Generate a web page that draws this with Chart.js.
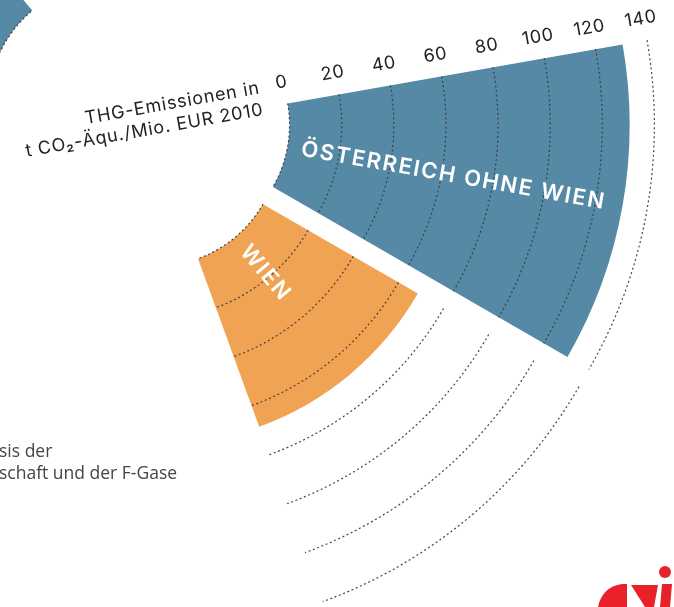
<!DOCTYPE html>
<html>
<head>
    <style>
        html, body {
            margin: 0;
            width: 674px;
            height: 607px;
            overflow: hidden;
            background: #fff;
            position: relative;
        }
        #wrap {
            position: absolute;
            left: -413px;
            top: -430px;
            width: 1100px;
            height: 1100px;
        }
        #note {
            position: absolute;
            left: -1px;
            top: 439px;
            font: 17.5px "Open Sans", sans-serif;
            color: #444;
            line-height: 22px;
            white-space: pre;
        }
        #logo {
            position: absolute;
            left: 0;
            top: 0;
        }
    </style>
    <script src="https://cdn.jsdelivr.net/npm/chart.js"></script>
</head>
<body>
    <div id="wrap">
        <canvas id="emissionChart" width="1100" height="1100"></canvas>
    </div>
    <div id="note">sis der
schaft und der F-Gase</div>
    <svg id="logo" width="674" height="607">
        <path d="M598,607 Q602,587 622,584 L627,584 L627,607 Z" fill="#e9212b"/>
        <path d="M631,585 L658,585 L654,607 L645,607 Z" fill="#e9212b"/>
        <path d="M662,584 L672,584 L670,607 L660,607 Z" fill="#e9212b"/>
        <circle cx="665" cy="572" r="6" fill="#e9212b"/>
    </svg>

    <script>
        // sectors of the radial chart, 40 degrees each (empty ones are gaps)
        const categories = ["", "", "", "", "ÖSTERREICH OHNE WIEN", "WIEN"];
        const emissions = [90, null, null, null, 130.5, 68.6];
        const tickValues = [0, 20, 40, 60, 80, 100, 120, 140];
        const axisTitle = ["THG-Emissionen in", "t CO₂-Äqu./Mio. EUR 2010"];

        const colors = ["#5589a6", "rgba(0,0,0,0)", "rgba(0,0,0,0)", "rgba(0,0,0,0)", "#5589a6", "#f0a453"];
        const OFFSET = 29;      // every sector is pushed out along its middle angle
        const axisIndex = 4;    // the ticks sit along this sector's first edge

        const sectorPlugin = {
            id: "sectors",
            afterDatasetUpdate(chart, args) {
                const scale = chart.scales.r;
                const inner = scale.getDistanceFromCenterForValue(0);
                args.meta.data.forEach((el) => {
                    const mid = (el.startAngle + el.endAngle) / 2;
                    el.x += Math.cos(mid) * OFFSET;
                    el.y += Math.sin(mid) * OFFSET;
                    el.innerRadius = inner;
                });
            },
            afterDatasetsDraw(chart) {
                const ctx = chart.ctx;
                const scale = chart.scales.r;
                const arcs = chart.getDatasetMeta(0).data;

                // dotted rings, one set per sector
                ctx.save();
                ctx.setLineDash([2, 2.6]);
                ctx.lineWidth = 1.2;
                ctx.strokeStyle = "rgba(60,60,60,0.95)";
                arcs.forEach((el, i) => {
                    if (emissions[i] === null) return;
                    tickValues.forEach((v) => {
                        ctx.beginPath();
                        ctx.arc(el.x, el.y, scale.getDistanceFromCenterForValue(v), el.startAngle, el.endAngle);
                        ctx.stroke();
                    });
                });
                ctx.restore();

                // tick labels + axis title along the edge of the axis sector
                const ax = arcs[axisIndex];
                const a = ax.startAngle;
                const t = [Math.cos(a), Math.sin(a)];
                const n = [Math.sin(a), -Math.cos(a)];
                const at = (r, off, shift) => [
                    ax.x + r * t[0] + off * n[0] + shift * t[0],
                    ax.y + r * t[1] + off * n[1] + shift * t[1]
                ];

                ctx.save();
                ctx.fillStyle = "#222";
                ctx.font = "400 18px Inter";
                ctx.letterSpacing = "0.6px";
                ctx.textAlign = "center";
                ctx.textBaseline = "middle";
                tickValues.forEach((v) => {
                    const p = at(scale.getDistanceFromCenterForValue(v), 22, -2.5);
                    ctx.save();
                    ctx.translate(p[0], p[1]);
                    ctx.rotate(a);
                    ctx.fillText(String(v), 0, 0);
                    ctx.restore();
                });

                ctx.textAlign = "right";
                ctx.textBaseline = "alphabetic";
                ctx.letterSpacing = "0.8px";
                const titlePos = [[99, 14.8], [99, -7.2]];
                axisTitle.forEach((line, k) => {
                    const p = at(titlePos[k][0], titlePos[k][1], 0);
                    ctx.save();
                    ctx.translate(p[0], p[1]);
                    ctx.rotate(a);
                    ctx.fillText(line, 0, 0);
                    ctx.restore();
                });
                ctx.restore();

                // category names, written outwards from the inner ring
                ctx.save();
                ctx.fillStyle = "#fff";
                ctx.font = "600 22px Inter";
                ctx.letterSpacing = "1.8px";
                ctx.textAlign = "left";
                ctx.textBaseline = "middle";
                arcs.forEach((el, i) => {
                    if (!categories[i]) return;
                    const mid = (el.startAngle + el.endAngle) / 2;
                    const r = scale.getDistanceFromCenterForValue(0) + 14;
                    ctx.save();
                    ctx.translate(el.x + r * Math.cos(mid), el.y + r * Math.sin(mid));
                    ctx.rotate(mid);
                    ctx.fillText(categories[i], 0, 0);
                    ctx.restore();
                });
                ctx.restore();
            }
        };

        const ctx = document.getElementById("emissionChart").getContext("2d");
        const emissionChart = new Chart(ctx, {
            type: "polarArea",
            data: {
                labels: categories,
                datasets: [{
                    data: emissions,
                    backgroundColor: colors,
                    borderWidth: 0,
                    angle: 40
                }]
            },
            options: {
                responsive: false,
                animation: false,
                events: [],
                layout: { padding: 0 },
                plugins: {
                    legend: { display: false },
                    tooltip: { enabled: false }
                },
                scales: {
                    r: {
                        min: -47.58,
                        max: 163.47,
                        startAngle: -80,
                        grid: { display: false },
                        angleLines: { display: false },
                        ticks: { display: false },
                        pointLabels: { display: false }
                    }
                }
            },
            plugins: [sectorPlugin]
        });
    </script>
</body>
</html>
